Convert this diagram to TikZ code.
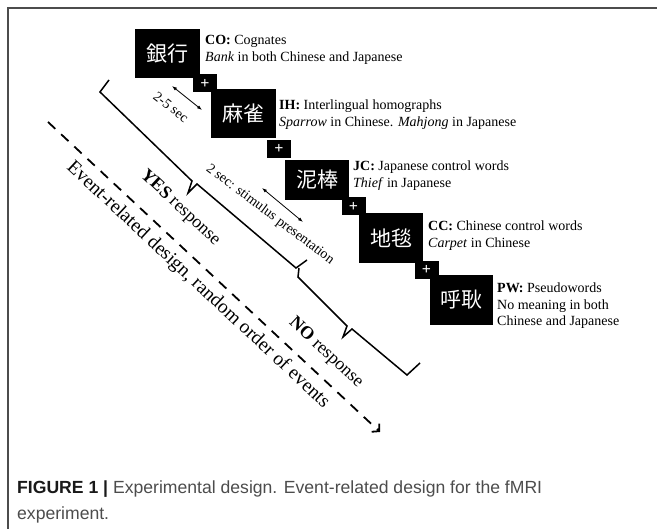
\documentclass[tikz,border=0pt]{standalone}
\usepackage{fontspec}
\setmainfont{Liberation Serif}
\newfontfamily\capfont{Liberation Sans}
\newfontfamily\cjkfont{Noto Sans CJK JP}
\usetikzlibrary{arrows.meta}

\begin{document}
\begin{tikzpicture}[x=1pt, y=-1pt,
	word/.style={fill=black, text=white, inner sep=0pt, minimum width=65pt, minimum height=49pt, font=\cjkfont\fontsize{21}{21}\selectfont},
	plusbox/.style={fill=black, text=white, inner sep=0pt, minimum width=24pt, minimum height=18pt, font=\bfseries\fontsize{16}{16}\selectfont},
	lbl/.style={anchor=north west, inner sep=0pt, align=left, font=\fontsize{14}{16.8}\selectfont},
	brace/.style={line width=1.5pt, line join=miter},
	timing/.style={line width=0.8pt, {Latex[length=5pt,width=3.5pt]}-{Latex[length=5pt,width=3.5pt]}},
	slant/.style={inner sep=0pt, rotate=-43, font=\fontsize{18}{18}\selectfont}]

	\useasboundingbox (0,0) rectangle (657,529);
	\draw[line width=1.8pt, black!70] (8,529) -- (8,8) -- (657,8);

	\node[word] (CO) at (167,53.5) {銀行};
	\node[word] (IH) at (243,113.5) {麻雀};
	\node[word, minimum width=64pt, minimum height=40pt] (JC) at (317,180) {泥棒};
	\node[word, minimum width=64pt, minimum height=50pt] (CC) at (391,238) {地毯};
	\node[word, minimum width=63pt, minimum height=50pt] (PW) at (461.5,300) {呼耿};

	\node[plusbox] (P1) at (205,83.5) {+};
	\node[plusbox] (P2) at (279,149) {+};
	\node[plusbox] (P3) at (353.5,206.5) {+};
	\node[plusbox] (P4) at (426.5,270) {+};

	\node[lbl] (lCO) at (205,35.4) {\textbf{CO:} Cognates\\\textit{Bank} in both Chinese and Japanese};
	\node[lbl] (lIH) at (279,99.4) {\textbf{IH:} Interlingual homographs\\\textit{Sparrow} in Chinese. \textit{Mahjong} in Japanese};
	\node[lbl] (lJC) at (353,160.4) {\textbf{JC:} Japanese control words\\\textit{Thief} in Japanese};
	\node[lbl] (lCC) at (428,220.4) {\textbf{CC:} Chinese control words\\\textit{Carpet} in Chinese};
	\node[lbl] (lPW) at (497,282.4) {\textbf{PW:} Pseudowords\\No meaning in both\\Chinese and Japanese};

	\coordinate (A) at (172,86);
	\coordinate (B) at (202,110);
	\coordinate (C) at (262,188);
	\coordinate (D) at (303,222);
	\draw[timing] (A) -- (B);
	\draw[timing] (C) -- (D);
	\node[inner sep=0pt, rotate=-38, font=\fontsize{14}{14}\selectfont] (gap) at (171,107) {2-5 sec};
	\node[inner sep=0pt, rotate=-37, font=\fontsize{14}{14}\selectfont] (stim) at (270,214.5) {2 sec: stimulus presentation};

	\draw[brace] (109,80) -- (100,92) -- (192,181) -- (188,193) -- (197,184) -- (296,268) -- (307,260);
	\draw[brace] (299,268) -- (298,277) -- (347,326) -- (343,337) -- (352,329) -- (407,375) -- (420,363);
	\node[slant] (yes) at (180,208) {\textbf{YES} response};
	\node[slant] (no) at (326,353) {\textbf{NO} response};

	\coordinate (E) at (48,122);
	\coordinate (F) at (380,432);
	\draw[line width=1.8pt, dash pattern=on 10pt off 8pt, -{Straight Barb[length=5pt,width=11pt]}] (E) -- (F);
	\node[slant, font=\fontsize{19.5}{19.5}\selectfont] (order) at (198,285) {Event-related design, random order of events};

	\node[anchor=north west, inner sep=0pt, align=left, text=black!70, font=\capfont\fontsize{17.6}{26}\selectfont] (cap) at (17,481) {{\color{black!90}\textbf{FIGURE 1 |}} Experimental design. Event-related design for the fMRI\\experiment.};

\end{tikzpicture}
\end{document}
